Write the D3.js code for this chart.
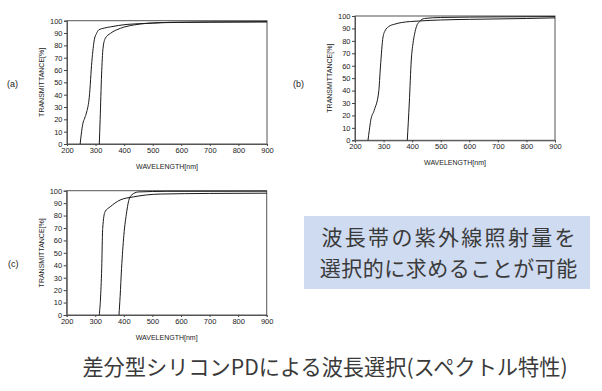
<!DOCTYPE html>
<html><head><meta charset="utf-8">
<script src="https://cdn.jsdelivr.net/npm/d3@7"></script>
<style>
html,body{margin:0;padding:0;background:#fff;}
svg{display:block;}
</style></head>
<body>
<svg id="chart" width="602" height="391"></svg>
<script>
// ---- data ----
const xTicks = [200, 300, 400, 500, 600, 700, 800, 900];
const yTicks = [0, 10, 20, 30, 40, 50, 60, 70, 80, 90, 100];
const xTitle = "WAVELENGTH[nm]";
const yTitle = "TRANSMITTANCE[%]";
const panelLabels = ["(a)", "(b)", "(c)"];

// [wavelength nm, transmittance %]
const curveA1 = [[246,0],[250,8],[255,16],[262,21],[269,26],[278,38],[287,67],[296,85],[303,89.5],[311,92.5],[330,94],[352,95],[410,97],[500,98],[561,98.7],[700,99],[900,99.2]];
const curveA2 = [[313,0],[316,20],[321,56],[326,77.6],[334,85.7],[352,89.7],[387,93.8],[433,96.5],[527,98.4],[700,98.8],[900,99]];
const curveB1 = [[245.5,0],[250,8],[255,16],[267,24],[283,39],[289,59],[298,83],[305,88],[318,91.5],[340,93.5],[362,94.7],[426,96],[500,96.8],[600,97.3],[800,98],[900,98.5]];
const curveB2 = [[383,0],[390,30],[397,64.6],[403,78],[409,86],[415,91.5],[426,95.5],[443,98],[500,98.8],[700,99.3],[900,99.5]];
const curveC1 = [[314,0],[318,12],[322.5,37.5],[326,69.7],[334,83],[352,87],[387,92.5],[433,95],[527,97.3],[700,97.8],[900,98]];
const curveC2 = [[383,0],[387,15],[392,37.5],[400,64],[410,83],[416,91],[427,96.5],[451,99],[550,99.5],[900,99.6]];

const noteLines = ["波長帯の紫外線照射量を", "選択的に求めることが可能"];
const titleText = "差分型シリコンPDによる波長選択(スペクトル特性)";

// ---- layout ----
const panels = [
  {label: panelLabels[0], curves: [curveA1, curveA2], left: 67, right: 267, top: 20.7, bottom: 144, lx: 7, ly: 87},
  {label: panelLabels[1], curves: [curveB1, curveB2], left: 355, right: 555, top: 16, bottom: 140.3, lx: 293, ly: 87},
  {label: panelLabels[2], curves: [curveC1, curveC2], left: 66.7, right: 266.7, top: 190.7, bottom: 315, lx: 8, ly: 267}
];

const svg = d3.select("#chart");
const axisFont = "'Liberation Sans', Arial, sans-serif";
const ink = "#222";

panels.forEach(p => {
  const x = d3.scaleLinear().domain([200, 900]).range([p.left, p.right]);
  const y = d3.scaleLinear().domain([0, 100]).range([p.bottom, p.top]);
  const g = svg.append("g");

  // frame
  g.append("rect").attr("x", p.left).attr("y", p.top)
    .attr("width", p.right - p.left).attr("height", p.bottom - p.top)
    .attr("fill", "none").attr("stroke", "#555").attr("stroke-width", 1);

  const xa = g.append("g").attr("transform", `translate(0,${p.bottom})`)
    .call(d3.axisBottom(x).tickValues(xTicks).tickSize(2).tickPadding(1.5).tickFormat(d3.format("d")));
  const ya = g.append("g").attr("transform", `translate(${p.left},0)`)
    .call(d3.axisLeft(y).tickValues(yTicks).tickSize(3).tickPadding(1.5).tickFormat(d3.format("d")));
  [xa, ya].forEach(a => {
    a.select(".domain").attr("stroke", "#555");
    a.selectAll(".tick line").attr("stroke", "#444");
    a.selectAll("text").attr("font-family", axisFont).attr("font-size", 7.5).attr("fill", ink);
  });

  // titles
  g.append("text").attr("x", (p.left + p.right) / 2).attr("y", p.bottom + 25)
    .attr("text-anchor", "middle").attr("font-family", axisFont).attr("font-size", 7)
    .attr("fill", ink).text(xTitle);
  g.append("text")
    .attr("transform", `translate(${p.left - 23},${(p.top + p.bottom) / 2}) rotate(-90)`)
    .attr("text-anchor", "middle").attr("font-family", axisFont).attr("font-size", 7)
    .attr("fill", ink).text(yTitle);

  // panel label
  g.append("text").attr("x", p.lx).attr("y", p.ly)
    .attr("font-family", axisFont).attr("font-size", 9).attr("fill", ink).text(p.label);

  // curves
  const line = d3.line().x(d => x(d[0])).y(d => y(d[1])).curve(d3.curveMonotoneX);
  p.curves.forEach(c => {
    g.append("path").datum(c).attr("d", line)
      .attr("fill", "none").attr("stroke", "#1a1a1a").attr("stroke-width", 1);
  });
});

// note box
svg.append("rect").attr("x", 304).attr("y", 216).attr("width", 286).attr("height", 73)
  .attr("fill", "#cfdbf0");
const noteSpacing = [2.3, 0.5];
noteLines.forEach((t, i) => {
  svg.append("text")
    .attr("x", 448.5 + noteSpacing[i] / 2).attr("y", 245 + i * 31)
    .attr("text-anchor", "middle")
    .attr("font-family", "'Noto Sans CJK JP', sans-serif").attr("font-size", 21)
    .attr("letter-spacing", noteSpacing[i])
    .attr("fill", "#3a3a3a").text(t);
});

// bottom title
svg.append("text").attr("x", 325).attr("y", 375)
  .attr("text-anchor", "middle")
  .attr("font-family", "'Noto Sans CJK JP', sans-serif").attr("font-size", 21.2)
  .attr("fill", "#3a3a3a").text(titleText);
</script>
</body></html>
